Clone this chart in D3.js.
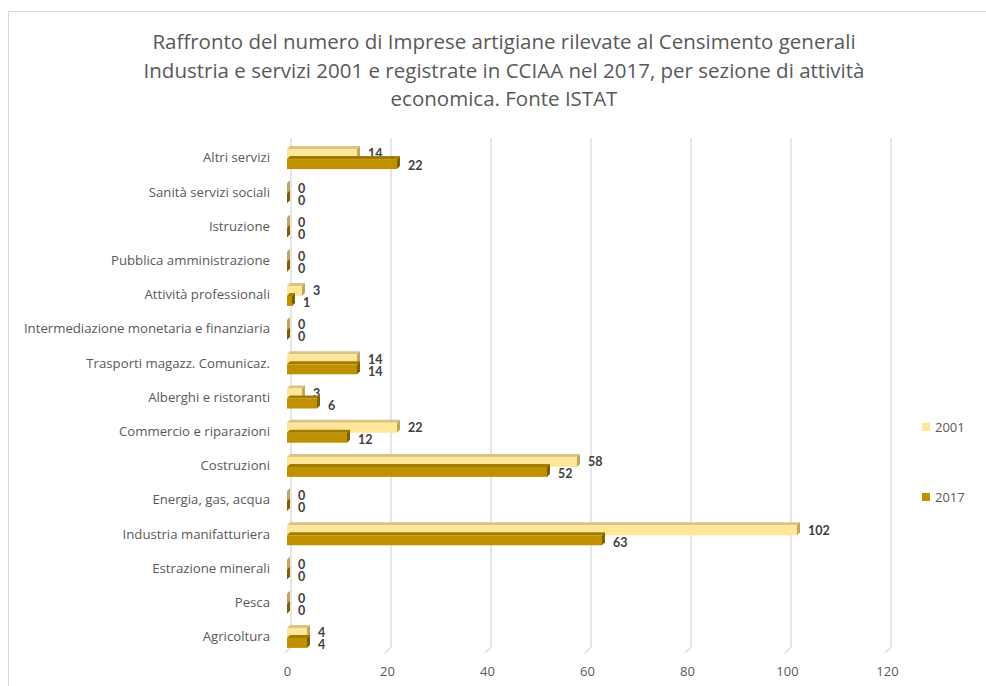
<!DOCTYPE html>
<html>
<head>
<meta charset="utf-8">
<script src="https://cdn.jsdelivr.net/npm/d3@7"></script>
<style>
  body { margin: 0; background: #fff; }
  text { font-family: "Open Sans", Lato, sans-serif; }
</style>
</head>
<body>
<svg id="chart" width="986" height="686"></svg>
<script>
// dati
var categories = ["Altri servizi", "Sanità servizi sociali", "Istruzione", "Pubblica amministrazione",
  "Attività professionali", "Intermediazione monetaria e finanziaria", "Trasporti magazz. Comunicaz.",
  "Alberghi e ristoranti", "Commercio e riparazioni", "Costruzioni", "Energia, gas, acqua",
  "Industria manifatturiera", "Estrazione minerali", "Pesca", "Agricoltura"];
var values2001 = [14, 0, 0, 0, 3, 0, 14, 3, 22, 58, 0, 102, 0, 0, 4];
var values2017 = [22, 0, 0, 0, 1, 0, 14, 6, 12, 52, 0, 63, 0, 0, 4];
var seriesNames = ["2001", "2017"];
var xTicks = [0, 20, 40, 60, 80, 100, 120];
var titleLines = ["Raffronto del numero di Imprese artigiane rilevate al Censimento generali",
  "Industria e servizi 2001 e registrate in CCIAA nel 2017, per sezione di attività",
  "economica. Fonte ISTAT"];

var colors = { "2001": {front: "#ffe699", top: "#d8c383", side: "#bfa560"},
               "2017": {front: "#bf9000", top: "#a37b00", side: "#7f6000"} };
var depth = 3;

var svg = d3.select("#chart");

// cornice
svg.append("rect").attr("x", 8.5).attr("y", 11.5).attr("width", 1000).attr("height", 700)
  .style("fill", "#fff").style("stroke", "#d9d9d9");

// titolo
svg.append("g").selectAll("text").data(titleLines).enter().append("text")
  .attr("x", 504).attr("y", function(d, i) { return 49 + i * 28.5; })
  .style("text-anchor", "middle").style("font-size", "20.5px").style("fill", "#595959")
  .text(function(d) { return d; });

var x = d3.scaleLinear().domain([0, 120]).range([287, 887]);
var y = d3.scaleBand().domain(categories).range([141, 654]);
var inner = d3.scaleBand().domain(seriesNames).range([-9, 11]);

// griglia (parete di fondo)
var grid = svg.append("g");
grid.selectAll("path").data(xTicks).enter().append("path")
  .attr("d", function(d) {
    var px = x(d);
    return "M" + (px + depth + 1) + ",138 L" + (px + depth + 1) + ",647 L" + (px - 2) + ",653";
  })
  .style("fill", "none").style("stroke", "#d9d9d9").style("stroke-width", 1.3);

// asse x
var xAxis = d3.axisBottom(x).tickValues(xTicks).tickSize(0).tickPadding(0);
var gx = svg.append("g").attr("transform", "translate(0,672)").call(xAxis);
gx.select(".domain").remove();
gx.selectAll("text").style("font-size", "13px").style("fill", "#595959")
  .style("font-family", "'Open Sans', Lato, sans-serif").attr("dy", "0.32em").attr("y", 0);

// asse y (etichette)
var yAxis = d3.axisLeft(y).tickSize(0).tickPadding(0);
var gy = svg.append("g").attr("transform", "translate(270,0)").call(yAxis);
gy.select(".domain").remove();
gy.selectAll("text").style("font-size", "13.2px").style("fill", "#595959")
  .style("font-family", "'Open Sans', Lato, sans-serif");

// barre 3D
var rows = [];
categories.forEach(function(c, i) {
  rows.push({cat: c, s: "2001", v: values2001[i]});
  rows.push({cat: c, s: "2017", v: values2017[i]});
});

var bars = svg.append("g").selectAll("g").data(rows).enter().append("g")
  .attr("transform", function(d) {
    return "translate(0," + (y(d.cat) + y.bandwidth() / 2 + inner(d.s)) + ")";
  });
var h = inner.bandwidth();

bars.append("path")
  .attr("d", function(d) {
    var x0 = x(0), x1 = x(d.v);
    return "M" + x0 + ",0 L" + (x0 + depth) + "," + (-depth) + " L" + (x1 + depth) + "," + (-depth) + " L" + x1 + ",0Z";
  })
  .style("fill", function(d) { return colors[d.s].top; });
bars.append("path")
  .attr("d", function(d) {
    var x1 = x(d.v);
    return "M" + x1 + ",0 L" + (x1 + depth) + "," + (-depth) + " L" + (x1 + depth) + "," + (h - depth) + " L" + x1 + "," + h + "Z";
  })
  .style("fill", function(d) { return colors[d.s].side; });
bars.append("rect")
  .attr("x", x(0)).attr("y", 0)
  .attr("width", function(d) { return x(d.v) - x(0); })
  .attr("height", h)
  .style("fill", function(d) { return colors[d.s].front; });

// etichette valori
bars.append("text")
  .attr("x", function(d) { return x(d.v) + depth + 8; })
  .attr("y", function(d) { return d.s == "2001" ? h / 2 : h / 2 + 2; })
  .attr("dy", "0.35em")
  .style("font-family", "Lato, 'Open Sans', sans-serif")
  .style("font-size", "12.5px").style("font-weight", "bold").style("fill", "#404040")
  .text(function(d) { return d.v; });

// legenda
var legend = svg.append("g").selectAll("g").data(seriesNames).enter().append("g")
  .attr("transform", function(d, i) { return "translate(922," + (427 + i * 70) + ")"; });
legend.append("rect").attr("x", 0).attr("y", -4).attr("width", 8).attr("height", 8)
  .style("fill", function(d) { return colors[d].front; });
legend.append("text").attr("x", 13).attr("y", 0).attr("dy", "0.35em")
  .style("font-size", "13px").style("fill", "#595959").text(function(d) { return d; });
</script>
</body>
</html>
